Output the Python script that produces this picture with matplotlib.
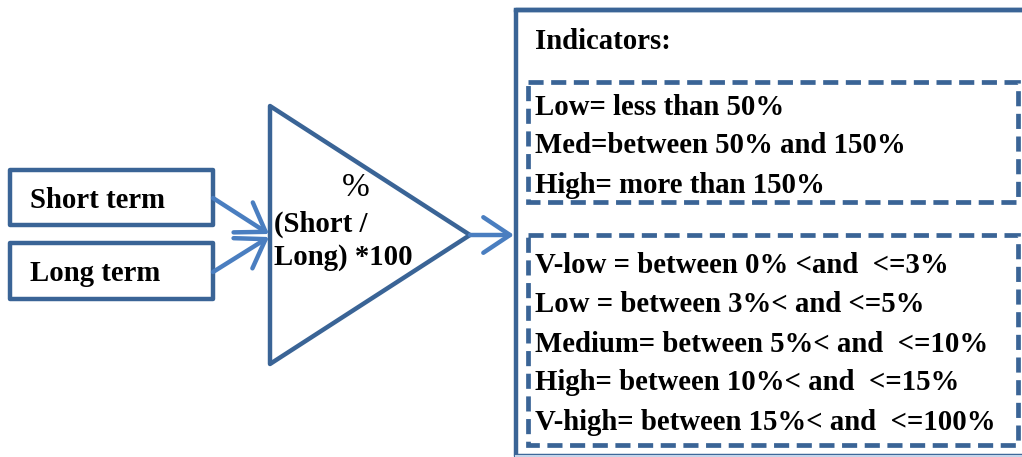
import matplotlib
matplotlib.use("Agg")
import matplotlib.pyplot as plt
from matplotlib.patches import Rectangle, Polygon, FancyArrowPatch

# ---- content ----
input_labels = ["Short term", "Long term"]
formula_symbol = "%"
formula_lines = ["(Short /", "Long) *100"]
header = "Indicators:"
ratio_levels = ["Low= less than 50%",
                "Med=between 50% and 150%",
                "High= more than 150%"]
rate_levels = ["V-low = between 0% <and  <=3%",
               "Low = between 3%< and <=5%",
               "Medium= between 5%< and  <=10%",
               "High= between 10%< and  <=15%",
               "V-high= between 15%< and  <=100%"]

W, H = 1022, 457
BOX = "#3A6496"
ARROW = "#4A7EC0"
FONT = "Liberation Serif"

fig = plt.figure(figsize=(W / 100, H / 100), dpi=100)
ax = fig.add_axes([0, 0, 1, 1])
ax.set_xlim(0, W)
ax.set_ylim(H, 0)
ax.axis("off")

fs = 20.7

# input boxes
in_boxes = [(10, 170, 203, 55), (10, 243, 203, 56)]
baselines = [208, 281]
for (x, y, w, h), lab, b in zip(in_boxes, input_labels, baselines):
    ax.add_patch(Rectangle((x, y), w, h, fill=False, ec=BOX, lw=3.2, joinstyle="round"))
    ax.text(30, b, lab, fontsize=fs, fontweight="bold", family=FONT, va="baseline", ha="left")

# triangle
tri = Polygon([(270, 106), (270, 364), (470, 235)], closed=True, fill=False,
              ec=BOX, lw=3.2, joinstyle="round")
ax.add_patch(tri)
ax.text(356, 196, formula_symbol, fontsize=24, family=FONT, va="baseline", ha="center")
ax.text(274, 232, formula_lines[0], fontsize=fs, fontweight="bold", family=FONT, va="baseline", ha="left")
ax.text(274, 265, formula_lines[1], fontsize=fs, fontweight="bold", family=FONT, va="baseline", ha="left")

# arrows
def arrow(p0, p1):
    ax.add_patch(FancyArrowPatch(p0, p1, arrowstyle="->,head_length=6,head_width=4",
                                 color=ARROW, lw=3.2, shrinkA=0, shrinkB=0,
                                 mutation_scale=3.2, capstyle="round"))

arrow((213, 198), (269, 234))
arrow((213, 272), (269, 237))
arrow((470, 235), (514, 235))

# big right box (right side runs off canvas)
ax.plot([1030, 516, 516, 1030], [10, 10, 456, 456], color=BOX, lw=3.2,
        solid_joinstyle="round", clip_on=False)
ax.plot([516, 1030], [456, 456], color="#C5D5EA", lw=1.5)
ax.plot([516, 1030], [10, 10], color=BOX, lw=3.2)

ax.text(535, 49, header, fontsize=fs, fontweight="bold", family=FONT, va="baseline", ha="left")

# dashed boxes
for (x, y, w, h) in [(528, 82, 490, 120), (528, 235, 490, 210)]:
    ax.add_patch(Rectangle((x, y), w, h, fill=False, ec=BOX, lw=3.4,
                           ls=(0, (3.2, 1.6))))

for txt, b in zip(ratio_levels, [115, 153, 193]):
    ax.text(535, b, txt, fontsize=fs, fontweight="bold", family=FONT, va="baseline", ha="left")
for txt, b in zip(rate_levels, [273, 312, 352, 390, 430]):
    ax.text(535, b, txt, fontsize=fs, fontweight="bold", family=FONT, va="baseline", ha="left")

fig.savefig("out.png", dpi=100)
